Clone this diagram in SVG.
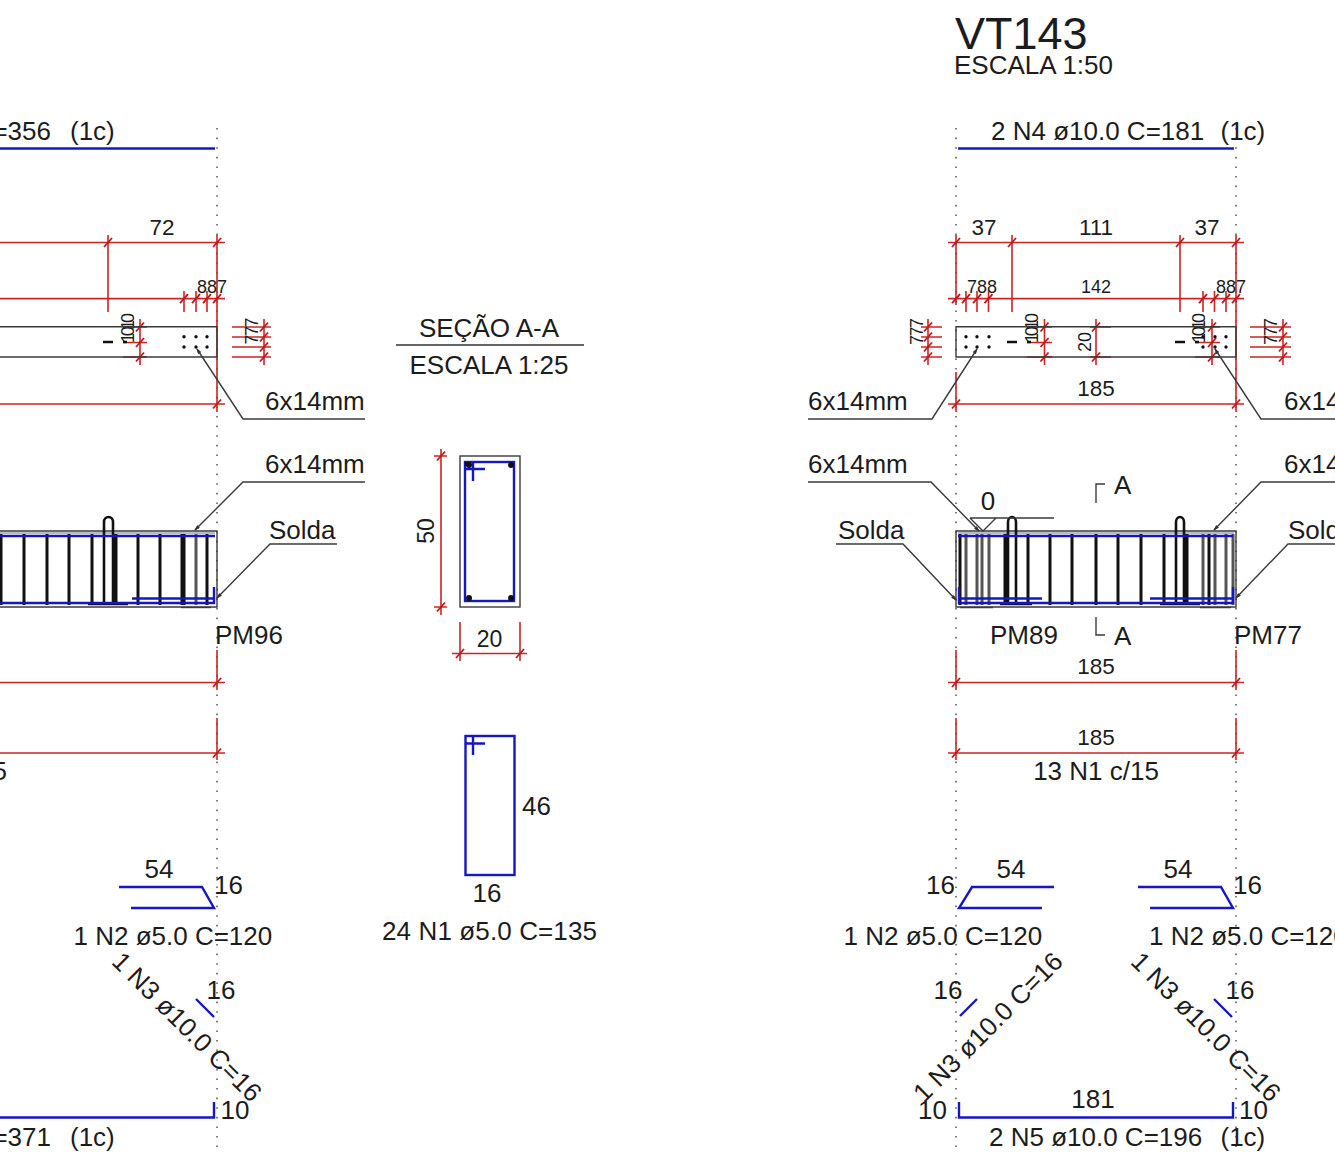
<svg xmlns="http://www.w3.org/2000/svg" width="1335" height="1168" viewBox="0 0 1335 1168">
<style>
text{font-family:"Liberation Sans",Arial,sans-serif;fill:#1c1c1c;white-space:pre}
.s26{font-size:26px}.s23{font-size:23px}.s22{font-size:22.500px}.s18{font-size:18px}
.m{text-anchor:middle}.e{text-anchor:end}
.r{stroke:#cb2525;stroke-width:1.600;fill:none}
.b{stroke:#1616c4;stroke-width:2.400;fill:none}
.k{stroke:#3a3a3a;stroke-width:1.400;fill:none}
.f{stroke:#777;stroke-width:1;fill:none}
.c{stroke:#111;stroke-width:3;fill:none}
.g{stroke:#555;stroke-width:3;fill:none}
.o{stroke:#555;stroke-width:1.500;stroke-dasharray:1.600 8;fill:none}
.d{fill:#111}
.h{stroke:#111;stroke-width:2.600;fill:none}
</style>
<defs>
<path id="t" d="M-4 4.500L4 -4.500" stroke="#c01818" stroke-width="1.800" fill="none"/>
<marker id="a" markerWidth="6" markerHeight="4" refX="5" refY="2" orient="auto" markerUnits="userSpaceOnUse"><path d="M0 0L6 2L0 4Z" fill="#333"/></marker>
</defs>

<g id="axes">
<path class="o" d="M217 128V1147M956 128V1147M1236 128V1147"/>
</g>

<g id="title">
<text x="955" y="49" font-size="45">VT143</text>
<text x="954" y="74" class="s26">ESCALA 1:50</text>
</g>

<g id="left-span">
<text x="51" y="139.500" class="s26 e">=356</text>
<text x="70" y="139.500" class="s26">(1c)</text>
<path class="b" d="M0 148.500H215"/>
<g id="left-dims">
<path class="r" d="M0 242.500H225M217 235V372M108 235V312M0 298.600H225M184 291V312M196 291V312M207 291V312M0 404H225M217 372V412M123 327H147M140 319V365M123 342.500H147M123 357H147M232 327H271M232 337H271M232 347H271M232 357H271M264 319V365M217 650V690M0 682.500H225M217 718V760M0 753H225"/>
<use href="#t" x="108" y="242.500"/><use href="#t" x="217" y="242.500"/>
<use href="#t" x="184" y="298.600"/><use href="#t" x="196" y="298.600"/><use href="#t" x="207" y="298.600"/><use href="#t" x="217" y="298.600"/>
<use href="#t" x="140" y="327"/><use href="#t" x="140" y="342.500"/><use href="#t" x="140" y="357"/>
<use href="#t" x="264" y="327"/><use href="#t" x="264" y="337"/><use href="#t" x="264" y="347"/><use href="#t" x="264" y="357"/>
<use href="#t" x="217" y="404"/><use href="#t" x="217" y="682.500"/><use href="#t" x="217" y="753"/>
<text x="162" y="234.500" class="s22 m">72</text>
<text x="197" y="293" class="s18">887</text>
<text transform="translate(134,343) rotate(-90)" class="s18" textLength="30" lengthAdjust="spacing">1010</text>
<text transform="translate(258,344.500) rotate(-90)" class="s18" textLength="27" lengthAdjust="spacing">777</text>
<text x="7" y="780" class="s26 e">5</text>
</g>
<g id="left-plan">
<path class="k" d="M0 326.700H217V357H0"/>
<path stroke="#111" stroke-width="2.400" d="M103 342H113M123 342H127"/>
<g class="d"><circle cx="184" cy="336.700" r="1.700"/><circle cx="196" cy="336.700" r="1.700"/><circle cx="207" cy="336.700" r="1.700"/><circle cx="184" cy="347" r="1.700"/><circle cx="196" cy="347" r="1.700"/><circle cx="207" cy="347" r="1.700"/></g>
<path class="k" d="M365 419H243L197 349" marker-end="url(#a)"/>
<text x="265" y="410" class="s26">6x14mm</text>
</g>
<g id="left-elev">
<path class="k" d="M0 531H217V607H0"/>
<path class="f" d="M0 533H215"/>
<path class="c" d="M1 534V605M24 534V605M47 534V605M69 534V605M92 534V605M138 534V605M160 534V605M207 534V605"/>
<path stroke="#111" stroke-width="5" d="M115 534V605M183 534V605"/>
<path class="g" d="M196 534V605"/>
<path class="h" d="M104 605V522A4.500 5 0 0 1 113 522V605M88 604H128"/>
<path class="k" d="M181 607.500H211"/>
<path class="b" d="M0 536H215M0 603H214V587M132 598.500H214"/>
<path class="k" d="M365 482H243L195 530" marker-end="url(#a)"/>
<path class="k" d="M337 544H270L217 598" marker-end="url(#a)"/>
<text x="265" y="473" class="s26">6x14mm</text>
<text x="269" y="539" class="s26">Solda</text>
<text x="215" y="644" class="s26">PM96</text>
</g>
<g id="left-bars">
<text x="159" y="878" class="s26 m">54</text>
<text x="214" y="894" class="s26">16</text>
<path class="b" d="M119 887H202L214 908H131"/>
<text x="73.500" y="945" class="s26">1 N2 ø5.0 C=120</text>
<text transform="translate(110.500,963) rotate(45)" class="s26">1 N3 ø10.0 C=16</text>
<path class="b" d="M196 999L214 1017"/>
<text x="206.500" y="999" class="s26">16</text>
<text x="220.500" y="1119" class="s26">10</text>
<path class="b" d="M0 1117.500H214V1102"/>
<text x="51" y="1146" class="s26 e">=371</text>
<text x="70" y="1146" class="s26">(1c)</text>
</g>
</g>

<g id="section">
<text x="489" y="336.500" class="s26 m">SEÇÃO A-A</text>
<path stroke="#333" stroke-width="1.300" d="M396 345H584"/>
<text x="489" y="373.500" class="s26 m">ESCALA 1:25</text>
<g id="section-rc">
<rect x="460" y="456" width="60" height="151" class="k"/>
<rect x="465" y="462" width="49" height="139" class="b"/>
<path class="b" d="M465 469H485M473 462V481"/>
<g class="d"><rect x="465" y="462" width="4" height="4"/><circle cx="469" cy="465" r="3"/><circle cx="511" cy="465" r="3"/><circle cx="469" cy="598" r="3"/><circle cx="511" cy="598" r="3"/></g>
<path class="r" d="M434 456H447M434 607H447M441 449V615M460 622V661M520 622V661M452 653.500H527"/>
<use href="#t" x="441" y="456"/><use href="#t" x="441" y="607"/><use href="#t" x="460" y="653.500"/><use href="#t" x="520" y="653.500"/>
<text transform="translate(433.500,531) rotate(-90)" class="s23 m">50</text>
<text x="489.500" y="647" class="s23 m">20</text>
</g>
<g id="stirrup">
<rect x="465.500" y="736" width="49" height="139" class="b"/>
<path class="b" d="M465 743.500H485M473 736V755"/>
<text x="522" y="815" class="s26">46</text>
<text x="487" y="902" class="s26 m">16</text>
<text x="382" y="940" class="s26" textLength="215">24 N1 ø5.0 C=135</text>
</g>
</g>

<g id="vt143">
<text x="991" y="139.500" class="s26">2 N4 ø10.0 C=181</text>
<text x="1220.500" y="139.500" class="s26">(1c)</text>
<path class="b" d="M958 148.500H1234"/>
<g id="vt143-dims">
<path class="r" d="M948 242.500H1244M956 235V305M1012 235V312M1180 235V312M1236 235V372M948 298.600H1244M966 291V312M977 291V312M988.500 291V312M1203 291V312M1214.500 291V312M1226 291V312M921 327H942M921 337H942M921 347H942M921 357H942M928 319V365M1027 327H1052M1027 342.500H1052M1027 357H1052M1044.500 319V365M1090 327H1111M1090 357H1111M1096 319V365M1195 327H1220M1195 342.500H1220M1195 357H1220M1212 319V365M1250 327H1291M1250 337H1291M1250 347H1291M1250 357H1291M1283 319V365M956 372V412M948 404H1244M1236 372V412M956 650V690M1236 650V690M948 682.500H1244M956 718V760M1236 718V760M948 753H1244"/>
<use href="#t" x="956" y="242.500"/><use href="#t" x="1012" y="242.500"/><use href="#t" x="1180" y="242.500"/><use href="#t" x="1236" y="242.500"/>
<use href="#t" x="956" y="298.600"/><use href="#t" x="966" y="298.600"/><use href="#t" x="977" y="298.600"/><use href="#t" x="988.500" y="298.600"/><use href="#t" x="1203" y="298.600"/><use href="#t" x="1214.500" y="298.600"/><use href="#t" x="1226" y="298.600"/><use href="#t" x="1236" y="298.600"/>
<use href="#t" x="928" y="327"/><use href="#t" x="928" y="337"/><use href="#t" x="928" y="347"/><use href="#t" x="928" y="357"/>
<use href="#t" x="1044.500" y="327"/><use href="#t" x="1044.500" y="342.500"/><use href="#t" x="1044.500" y="357"/>
<use href="#t" x="1096" y="327"/><use href="#t" x="1096" y="357"/>
<use href="#t" x="1212" y="327"/><use href="#t" x="1212" y="342.500"/><use href="#t" x="1212" y="357"/>
<use href="#t" x="1283" y="327"/><use href="#t" x="1283" y="337"/><use href="#t" x="1283" y="347"/><use href="#t" x="1283" y="357"/>
<use href="#t" x="956" y="404"/><use href="#t" x="1236" y="404"/><use href="#t" x="956" y="682.500"/><use href="#t" x="1236" y="682.500"/><use href="#t" x="956" y="753"/><use href="#t" x="1236" y="753"/>
<text x="984" y="234.500" class="s22 m">37</text><text x="1096" y="234.500" class="s22 m">111</text><text x="1207" y="234.500" class="s22 m">37</text>
<text x="967" y="293" class="s18">788</text><text x="1096" y="293" class="s18 m">142</text><text x="1216" y="293" class="s18">887</text>
<text transform="translate(923,345) rotate(-90)" class="s18" textLength="27" lengthAdjust="spacing">777</text>
<text transform="translate(1038,343) rotate(-90)" class="s18" textLength="30" lengthAdjust="spacing">1010</text>
<text transform="translate(1090.500,342) rotate(-90)" class="s18 m">20</text>
<text transform="translate(1205,343) rotate(-90)" class="s18" textLength="30" lengthAdjust="spacing">1010</text>
<text transform="translate(1277,345) rotate(-90)" class="s18" textLength="27" lengthAdjust="spacing">777</text>
<text x="1096" y="396" class="s22 m">185</text>
<text x="1096" y="673.500" class="s22 m">185</text>
<text x="1096" y="745" class="s22 m">185</text>
<text x="1096" y="780" class="s26 m">13 N1 c/15</text>
</g>
<g id="vt143-plan">
<path class="k" d="M956 326.700H1236V357H956Z"/>
<path stroke="#111" stroke-width="2.400" d="M1007 342H1017M1027 342H1031M1175 342H1185M1195 342H1199"/>
<g class="d"><circle cx="966" cy="336.700" r="1.700"/><circle cx="977" cy="336.700" r="1.700"/><circle cx="989" cy="336.700" r="1.700"/><circle cx="966" cy="347" r="1.700"/><circle cx="977" cy="347" r="1.700"/><circle cx="989" cy="347" r="1.700"/><circle cx="1203" cy="336.700" r="1.700"/><circle cx="1215" cy="336.700" r="1.700"/><circle cx="1226" cy="336.700" r="1.700"/><circle cx="1203" cy="347" r="1.700"/><circle cx="1215" cy="347" r="1.700"/><circle cx="1226" cy="347" r="1.700"/></g>
<path class="k" d="M808 419H932L977 349" marker-end="url(#a)"/>
<path class="k" d="M1335 419H1261L1215 349" marker-end="url(#a)"/>
<text x="808" y="410" class="s26">6x14mm</text>
<text x="1284" y="410" class="s26">6x14mm</text>
</g>
<g id="vt143-elev">
<path class="k" d="M956 531H1236V607H956Z"/>
<path class="f" d="M958 533H1234"/>
<path class="c" d="M960 534V605M1028 534V605M1050 534V605M1072 534V605M1096 534V605M1118 534V605M1141 534V605M1164 534V605M1209 534V605"/>
<path stroke="#111" stroke-width="5" d="M1006 534V605M1186 534V605"/>
<path class="g" d="M966 534V605M977 534V605M982 534V605M989 534V605M1203 534V605M1215 534V605M1226 534V605M1233 534V605"/>
<path class="h" d="M1008 605V522A4 5 0 0 1 1016 522V605M1176 605V522A4 5 0 0 1 1184 522V605M1000 604H1032M1160 604H1200"/>
<path class="k" d="M960 607.500H993M1200 607.500H1231"/>
<path class="b" d="M958 536H1233M959 587V603H1233V587M959 598.500H1042M1150 598.500H1233"/>
<path class="k" d="M970 518H1054M970 518L983 531L996 518"/>
<path class="k" d="M808 482H931L979 531" marker-end="url(#a)"/>
<path class="k" d="M836 544H903L956 600" marker-end="url(#a)"/>
<path class="k" d="M1335 482H1261L1214 530" marker-end="url(#a)"/>
<path class="k" d="M1335 544H1288L1236 598" marker-end="url(#a)"/>
<text x="808" y="473" class="s26">6x14mm</text>
<text x="1284" y="473" class="s26">6x14mm</text>
<text x="838" y="539" class="s26">Solda</text>
<text x="1288" y="539" class="s26">Solda</text>
<text x="988" y="510" class="s26 m">0</text>
<path class="k" d="M1105 484H1096V503M1105 635H1096V617"/>
<text x="1114" y="494" class="s26">A</text>
<text x="1114" y="645" class="s26">A</text>
<text x="990" y="644" class="s26">PM89</text>
<text x="1234" y="644" class="s26">PM77</text>
</g>
<g id="vt143-bars">
<text x="1011" y="878" class="s26 m">54</text><text x="1178" y="878" class="s26 m">54</text>
<text x="926" y="894" class="s26">16</text><text x="1233" y="894" class="s26">16</text>
<path class="b" d="M1054 887H972L959 908H1042M1138 887H1221L1233 908H1150"/>
<text x="843.500" y="945" class="s26">1 N2 ø5.0 C=120</text>
<text x="1149" y="945" class="s26">1 N2 ø5.0 C=120</text>
<text transform="translate(924,1103.500) rotate(-45)" class="s26">1 N3 ø10.0 C=16</text>
<text transform="translate(1129.500,963) rotate(45)" class="s26">1 N3 ø10.0 C=16</text>
<path class="b" d="M960 1016L977 999M1214 999L1232 1017"/>
<text x="933.500" y="999" class="s26">16</text><text x="1225.500" y="999" class="s26">16</text>
<text x="918" y="1119" class="s26">10</text><text x="1239" y="1119" class="s26">10</text>
<text x="1093" y="1108" class="s26 m">181</text>
<path class="b" d="M959 1102V1117.500H1233V1102"/>
<text x="989" y="1146" class="s26">2 N5 ø10.0 C=196</text>
<text x="1220.500" y="1146" class="s26">(1c)</text>
</g>
</g>
</svg>
